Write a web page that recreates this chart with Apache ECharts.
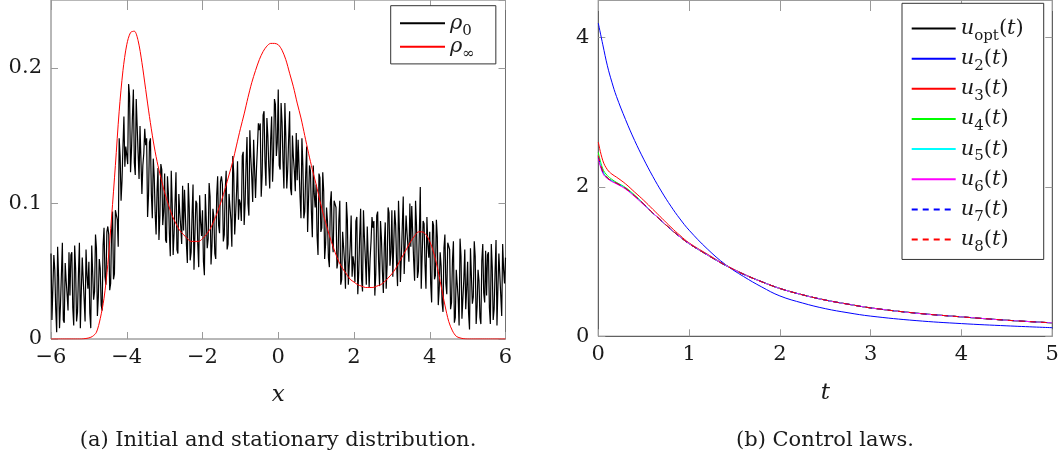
<!DOCTYPE html>
<html><head><meta charset="utf-8">
<script src="https://cdn.jsdelivr.net/npm/echarts@6/dist/echarts.min.js"></script>
<style>html,body{margin:0;padding:0;background:#fff}#c{width:1063px;height:458px}</style>
</head><body><div id="c"></div>
<script>
// ---------- Left panel data: initial (noisy) and stationary distribution ----------
const rhoX0 = -6, rhoStep = 0.025; // sampling grid of rho0
const rho0 = [
 0.063,0.014,0.013,0.062,0.051,0.022,0.005,0.068,0.046,0.008,0.025,0.048,0.071,0.014,0.012,0.056,0.043,0.033,0.021,0.064,
 0.032,0.062,0.064,0.023,0.010,0.069,0.052,0.013,0.020,0.048,0.071,0.008,0.035,0.060,0.059,0.029,0.013,0.066,0.047,0.037,
 0.057,0.019,0.008,0.069,0.069,0.029,0.035,0.077,0.067,0.017,0.031,0.059,0.052,0.025,0.021,0.069,0.082,0.046,0.040,0.079,
 0.083,0.077,0.036,0.041,0.080,0.094,0.044,0.048,0.095,0.094,0.088,0.068,0.148,0.135,0.102,0.117,0.142,0.164,0.127,0.142,
 0.142,0.129,0.188,0.179,0.123,0.139,0.164,0.184,0.130,0.121,0.177,0.157,0.137,0.118,0.157,0.156,0.107,0.128,0.137,0.155,
 0.143,0.148,0.090,0.106,0.145,0.148,0.107,0.089,0.133,0.120,0.093,0.077,0.109,0.126,0.073,0.091,0.129,0.125,0.084,0.094,
 0.122,0.073,0.071,0.120,0.107,0.078,0.061,0.124,0.100,0.062,0.078,0.101,0.123,0.066,0.063,0.107,0.093,0.083,0.070,0.113,
 0.080,0.110,0.111,0.070,0.056,0.115,0.097,0.058,0.064,0.092,0.114,0.051,0.077,0.102,0.100,0.070,0.053,0.106,0.086,0.076,
 0.095,0.057,0.047,0.107,0.107,0.067,0.074,0.115,0.105,0.055,0.069,0.096,0.090,0.063,0.059,0.106,0.120,0.084,0.078,0.116,
 0.120,0.114,0.072,0.077,0.110,0.124,0.066,0.070,0.107,0.106,0.088,0.068,0.135,0.122,0.077,0.092,0.109,0.131,0.088,0.103,
 0.100,0.087,0.135,0.138,0.084,0.100,0.129,0.149,0.100,0.091,0.154,0.134,0.120,0.101,0.147,0.146,0.104,0.125,0.141,0.159,
 0.154,0.159,0.105,0.121,0.165,0.168,0.131,0.113,0.163,0.150,0.127,0.111,0.147,0.164,0.116,0.134,0.177,0.173,0.135,0.145,
 0.184,0.128,0.125,0.174,0.160,0.131,0.111,0.174,0.149,0.111,0.125,0.148,0.168,0.111,0.106,0.150,0.134,0.124,0.109,0.152,
 0.117,0.147,0.146,0.105,0.089,0.148,0.128,0.089,0.094,0.122,0.142,0.079,0.103,0.128,0.124,0.094,0.075,0.128,0.107,0.097,
 0.114,0.076,0.062,0.122,0.119,0.079,0.082,0.123,0.109,0.059,0.070,0.097,0.087,0.060,0.053,0.100,0.109,0.073,0.064,0.102,
 0.103,0.097,0.052,0.057,0.088,0.102,0.040,0.044,0.079,0.078,0.057,0.037,0.101,0.088,0.040,0.055,0.069,0.091,0.046,0.061,
 0.055,0.042,0.087,0.090,0.033,0.049,0.076,0.096,0.044,0.035,0.095,0.075,0.059,0.040,0.083,0.082,0.038,0.059,0.072,0.090,
 0.082,0.087,0.032,0.048,0.091,0.094,0.057,0.039,0.087,0.074,0.050,0.034,0.069,0.086,0.037,0.055,0.097,0.093,0.054,0.064,
 0.095,0.046,0.046,0.095,0.084,0.055,0.039,0.102,0.080,0.042,0.060,0.083,0.105,0.048,0.047,0.091,0.078,0.068,0.057,0.100,
 0.068,0.098,0.099,0.058,0.043,0.102,0.084,0.045,0.050,0.078,0.112,0.037,0.062,0.087,0.085,0.055,0.037,0.090,0.070,0.060,
 0.079,0.041,0.027,0.087,0.084,0.044,0.047,0.088,0.075,0.025,0.037,0.064,0.054,0.027,0.020,0.067,0.077,0.041,0.033,0.071,
 0.072,0.066,0.022,0.027,0.058,0.072,0.012,0.016,0.051,0.050,0.030,0.010,0.074,0.061,0.015,0.030,0.044,0.066,0.022,0.037,
 0.057,0.019,0.007,0.067,0.066,0.026,0.031,0.072,0.061,0.011,0.024,0.051,0.043,0.016,0.011,0.058,0.070,0.034,0.027,0.065,
 0.032,0.062,0.064,0.023,0.011,0.070,0.053,0.014,0.022,0.050,0.073,0.010,0.038,0.063,0.062,0.032,0.017,0.070,0.051,0.041,
 0.060
];
const rhoInfX0 = -6, rhoInfStep = 0.1;
const rhoInf = [
 0,0,0,0,0,0,0,0,
 0,0.0003,0.0008,0.002,0.005,0.015,0.030,0.055,0.090,0.128,
 0.168,0.198,0.217,0.226,0.227,0.220,0.204,0.184,0.164,0.146,
 0.131,0.119,0.108,0.099,0.091,0.085,0.080,0.077,0.074,0.072,
 0.072,0.072,0.074,0.077,0.081,0.087,0.094,0.102,0.111,0.121,
 0.131,0.143,0.155,0.166,0.178,0.189,0.198,0.206,0.212,0.216,
 0.218,0.218,0.217,0.213,0.206,0.196,0.186,0.174,0.163,0.150,
 0.137,0.125,0.114,0.102,0.091,0.081,0.072,0.064,0.057,0.052,
 0.048,0.044,0.042,0.040,0.039,0.038,0.038,0.038,0.039,0.040,
 0.042,0.045,0.048,0.052,0.057,0.062,0.067,0.072,0.076,0.079,
 0.079,0.077,0.072,0.064,0.053,0.039,0.025,0.013,0.006,0.002,
 0.0008,0.0002,
 0,0,0,0,0,0,0,0,0,0,0
];
const xTicksLeft = [-6, 6, 2];      // min, max, step
const yTicksLeft = [0, 0.25, 0.1];

// ---------- Right panel data: control laws ----------
const tGrid = [0,0.05,0.1,0.15,0.2,0.3,0.4,0.5,0.6,0.7,0.8,0.9,1.0,1.2,1.4,1.6,1.8,2.0,2.25,2.5,2.75,3.0,3.5,4.0,4.5,5.0];
const uOpt = [2.40,2.20,2.12,2.08,2.05,1.98,1.88,1.77,1.65,1.54,1.43,1.33,1.24,1.09,0.95,0.83,0.73,0.64,0.555,0.485,0.43,0.38,0.31,0.26,0.215,0.18];
const u2   = [4.19,3.90,3.62,3.40,3.21,2.90,2.62,2.37,2.14,1.93,1.74,1.57,1.42,1.17,0.96,0.80,0.66,0.54,0.445,0.37,0.315,0.27,0.21,0.17,0.14,0.115];
const u3   = [2.60,2.35,2.23,2.17,2.13,2.04,1.93,1.82,1.70,1.58,1.46,1.35,1.25,1.10,0.955,0.835,0.73,0.64,0.555,0.485,0.43,0.38,0.31,0.26,0.215,0.18];
const u4   = [2.46,2.24,2.15,2.10,2.06,1.99,1.89,1.77,1.65,1.54,1.43,1.33,1.24,1.09,0.95,0.83,0.73,0.64,0.555,0.485,0.43,0.38,0.31,0.26,0.215,0.18];
const u5   = [2.42,2.21,2.12,2.08,2.05,1.98,1.88,1.77,1.65,1.54,1.43,1.33,1.24,1.09,0.95,0.83,0.73,0.64,0.555,0.485,0.43,0.38,0.31,0.26,0.215,0.18];
const u6   = [2.38,2.18,2.11,2.07,2.04,1.97,1.87,1.76,1.65,1.54,1.43,1.33,1.24,1.09,0.95,0.83,0.73,0.64,0.555,0.485,0.43,0.38,0.31,0.26,0.215,0.18];
const u7   = [2.41,2.20,2.12,2.08,2.05,1.98,1.88,1.77,1.65,1.54,1.43,1.33,1.24,1.09,0.95,0.83,0.73,0.64,0.555,0.485,0.43,0.38,0.31,0.26,0.215,0.18];
const u8   = [2.42,2.21,2.12,2.08,2.05,1.98,1.88,1.77,1.65,1.54,1.43,1.33,1.24,1.09,0.95,0.83,0.73,0.64,0.555,0.485,0.43,0.38,0.31,0.26,0.215,0.18];
const xTicksRight = [0, 5, 1];
const yTicksRight = [0, 4.5, 2];

const captions = ['(a) Initial and stationary distribution.', '(b) Control laws.'];
const axisNames = ['x', 't'];

// ---------- build ----------
const F = 'DejaVu Serif';
const FS = 21;
const TXT = '#1a1a1a';
const pairs = (x0, step, ys) => ys.map((y, i) => [+(x0 + i * step).toFixed(4), y]);
const tPairs = ys => ys.map((y, i) => [tGrid[i], y]);
const minus = v => String(v).replace('-', '\u2212');

function axesFor(grid, ext, isX, tickCol, isMirror, name, topTickLen) {
  const a = {
    type: 'value', gridIndex: grid, min: ext[0], max: ext[1], interval: ext[2],
    splitLine: {show: false},
    axisLine: {show: false, onZero: false},
    axisTick: {show: true, inside: true, length: isMirror && isX ? topTickLen : 7, lineStyle: {color: tickCol, width: 1}},
    axisLabel: {show: !isMirror, showMaxLabel: isX, margin: isX ? 8 : 9, fontFamily: F, fontSize: FS, color: TXT, formatter: minus}
  };
  if (isX) a.position = isMirror ? 'top' : 'bottom';
  else a.position = isMirror ? 'right' : 'left';
  if (name && !isMirror) {
    a.name = name; a.nameLocation = 'middle'; a.nameGap = 45;
    a.nameTextStyle = {fontFamily: F, fontStyle: 'italic', fontSize: FS + 2, color: TXT};
  }
  return a;
}

const LH = 24;
const rich = {
  i: {fontFamily: F, fontStyle: 'italic', fontSize: FS, lineHeight: LH, verticalAlign: 'middle', color: TXT},
  n: {fontFamily: F, fontSize: FS, lineHeight: LH, verticalAlign: 'middle', color: TXT},
  s: {fontFamily: F, fontSize: 15, lineHeight: LH, verticalAlign: 'bottom', padding: [0, 0, -3, 0], color: TXT}
};
const legendLabels = {
  rho0: '{i|\u03C1}{s|0}',
  rhoInf: '{i|\u03C1}{s|\u221E}',
  uopt: '{i|u}{s|opt}{n|(}{i|t}{n|)}',
  u2: '{i|u}{s|2}{n|(}{i|t}{n|)}', u3: '{i|u}{s|3}{n|(}{i|t}{n|)}', u4: '{i|u}{s|4}{n|(}{i|t}{n|)}',
  u5: '{i|u}{s|5}{n|(}{i|t}{n|)}', u6: '{i|u}{s|6}{n|(}{i|t}{n|)}', u7: '{i|u}{s|7}{n|(}{i|t}{n|)}',
  u8: '{i|u}{s|8}{n|(}{i|t}{n|)}'
};

const lineSeries = (name, data, color, xi, yi, extra) => Object.assign({
  name, type: 'line', data, xAxisIndex: xi, yAxisIndex: yi, symbol: 'none', showSymbol: false,
  lineStyle: {color, width: 1}, itemStyle: {color}, animation: false, silent: true
}, extra || {});

const noSymbol = {color: 'rgba(0,0,0,0)', borderColor: 'rgba(0,0,0,0)', borderWidth: 0, opacity: 0};

const option = {
  animation: false,
  backgroundColor: '#fff',
  title: [
    {text: captions[0], left: 278, top: 430, textAlign: 'center', padding: 0,
     textStyle: {fontFamily: F, fontSize: FS, fontWeight: 'normal', color: TXT}},
    {text: captions[1], left: 825, top: 430, textAlign: 'center', padding: 0,
     textStyle: {fontFamily: F, fontSize: FS, fontWeight: 'normal', color: TXT}}
  ],
  grid: [
    {left: 51, top: -2, width: 454.5, height: 341, show: true, borderColor: '#707070', borderWidth: 1, backgroundColor: 'transparent'},
    {left: 598.3, top: -4.1, width: 454, height: 340.4, show: true, borderColor: '#3a3a3a', borderWidth: 1, backgroundColor: 'transparent'}
  ],
  xAxis: [
    axesFor(0, xTicksLeft, true, '#9a9a9a', false, axisNames[0]),
    axesFor(0, xTicksLeft, true, '#9a9a9a', true, null, 10),
    axesFor(1, xTicksRight, true, '#9a9a9a', false, axisNames[1]),
    axesFor(1, xTicksRight, true, '#9a9a9a', true, null, 11)
  ],
  yAxis: [
    axesFor(0, yTicksLeft, false, '#9a9a9a', false),
    axesFor(0, yTicksLeft, false, '#9a9a9a', true),
    axesFor(1, yTicksRight, false, '#9a9a9a', false),
    axesFor(1, yTicksRight, false, '#9a9a9a', true)
  ],
  legend: [
    {orient: 'vertical', left: 390.7, top: 5.7, padding: [7, 21, 2.2, 8.3], itemGap: -2,
     itemWidth: 45, itemHeight: 14, borderColor: '#333', borderWidth: 1, backgroundColor: '#fff',
     selectedMode: false, data: ['rho0', 'rhoInf'], formatter: n => legendLabels[n],
     itemStyle: noSymbol,
     textStyle: {fontFamily: F, fontSize: FS, color: TXT, rich}},
    {orient: 'vertical', left: 902, top: 3.3, padding: [14.7, 20, 4.9, 8.7], itemGap: 4.65,
     itemWidth: 44, itemHeight: 14, borderColor: '#333', borderWidth: 1, backgroundColor: '#fff',
     selectedMode: false, data: ['uopt', 'u2', 'u3', 'u4', 'u5', 'u6', 'u7', 'u8'], formatter: n => legendLabels[n],
     itemStyle: noSymbol,
     textStyle: {fontFamily: F, fontSize: FS, color: TXT, rich}}
  ],
  series: [
    lineSeries('rho0', pairs(rhoX0, rhoStep, rho0), '#000000', 0, 0, {lineStyle: {color: '#000', width: 1.2}}),
    lineSeries('rhoInf', pairs(rhoInfX0, rhoInfStep, rhoInf), '#ff0000', 0, 0, {smooth: 0.3}),
    lineSeries('uopt', tPairs(uOpt), '#000000', 2, 2, {smooth: 0.4}),
    lineSeries('u2', tPairs(u2), '#0000ff', 2, 2, {smooth: 0.4}),
    lineSeries('u3', tPairs(u3), '#ff0000', 2, 2, {smooth: 0.4}),
    lineSeries('u4', tPairs(u4), '#00ff00', 2, 2, {smooth: 0.4}),
    lineSeries('u5', tPairs(u5), '#00ffff', 2, 2, {smooth: 0.4}),
    lineSeries('u6', tPairs(u6), '#ff00ff', 2, 2, {smooth: 0.4}),
    lineSeries('u7', tPairs(u7), '#0000ff', 2, 2, {smooth: 0.4, lineStyle: {color: '#0000ff', width: 1, type: [6, 5]}}),
    lineSeries('u8', tPairs(u8), '#ff0000', 2, 2, {smooth: 0.4, lineStyle: {color: '#ff0000', width: 1, type: [6, 5]}})
  ]
};
const chart = echarts.init(document.getElementById('c'), null, {renderer: 'canvas'});
chart.setOption(option);
</script>
</body></html>
